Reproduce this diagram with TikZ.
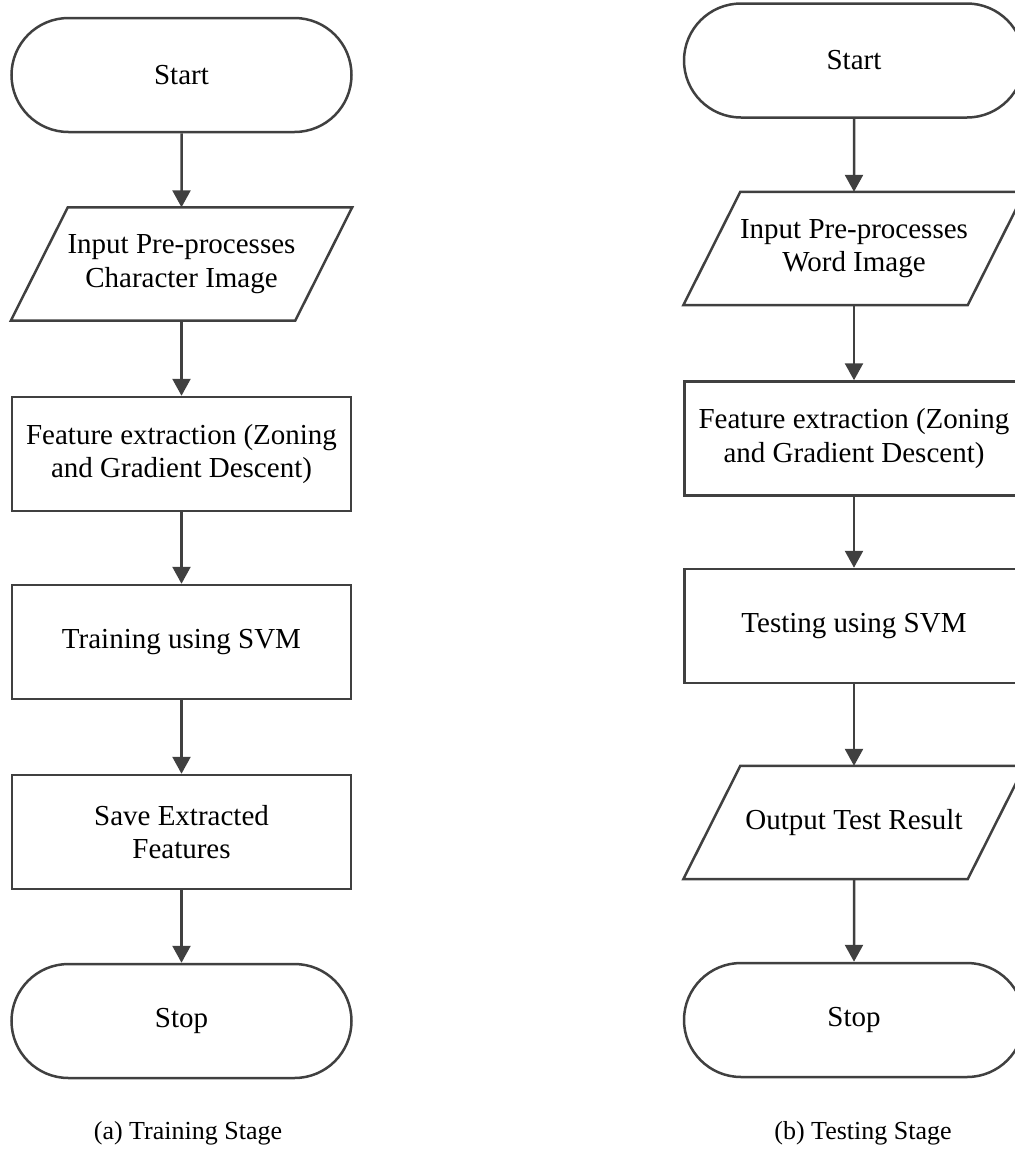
\documentclass[tikz,border=0pt]{standalone}
\usepackage{fontspec}
\setmainfont{Liberation Serif}
\usetikzlibrary{shapes.misc,arrows.meta}
\definecolor{lc}{HTML}{404040}
\newcommand\drawpara[1]{\draw[paraline] ([xshift=-28.5pt]#1.south west) -- ([xshift=-28.5pt]#1.south east) -- ([xshift=28.5pt]#1.north east) -- ([xshift=28.5pt]#1.north west) -- cycle;}
\begin{document}
\begin{tikzpicture}[x=1pt,y=-1pt,
  every node/.style={font=\fontsize{29}{33.5}\selectfont, text=black},
  base/.style={draw=lc, line width=2.5pt, align=center, inner sep=0pt, fill=white},
  term/.style={base, rounded rectangle, minimum width=340pt, minimum height=114pt},
  proc/.style={base, rectangle, minimum width=339pt, minimum height=114pt},
  io/.style={align=center, inner sep=0pt, rectangle, minimum width=284pt, minimum height=113pt},
  paraline/.style={draw=lc, line width=2.5pt, line join=miter},
  flow/.style={draw=lc, line width=2.5pt, -{Triangle[width=18pt,length=17pt]}},
  captext/.style={font=\fontsize{26}{30}\selectfont}
]
\useasboundingbox (0,0) rectangle (1015,1149);
\clip (0,0) rectangle (1015,1149);
% (a) Training
\node[term] (a1) at (181.5,75) {Start};
\node[io]   (a2) at (181.5,264) {Input Pre-processes\\Character Image};
\node[proc] (a3) at (181.5,454) {Feature extraction (Zoning\\and Gradient Descent)};
\node[proc] (a4) at (181.5,642) {Training using SVM};
\node[proc] (a5) at (181.5,832) {Save Extracted\\Features};
\node[term] (a6) at (181.5,1021) {Stop};
\node[captext] (ca) at (188,1133) {(a) Training Stage};
% (b) Testing
\node[term] (b1) at (854,60.5) {Start};
\node[io]   (b2) at (854,248.5) {Input Pre-processes\\Word Image};
\node[proc] (b3) at (854,438.5) {Feature extraction (Zoning\\and Gradient Descent)};
\node[proc] (b4) at (854,626) {Testing using SVM};
\node[io]   (b5) at (854,822.5) {Output Test Result};
\node[term] (b6) at (854,1020) {Stop};
\node[captext] (cb) at (863,1133) {(b) Testing Stage};
% parallelogram outlines
\drawpara{a2}
\drawpara{b2}
\drawpara{b5}
% connectors
\draw[flow] (a1) -- (a2);
\draw[flow] (a2) -- (a3);
\draw[flow] (a3) -- (a4);
\draw[flow] (a4) -- (a5);
\draw[flow] (a5) -- (a6);
\draw[flow] (b1) -- (b2);
\draw[flow] (b2) -- (b3);
\draw[flow] (b3) -- (b4);
\draw[flow] (b4) -- (b5);
\draw[flow] (b5) -- (b6);
\end{tikzpicture}
\end{document}
